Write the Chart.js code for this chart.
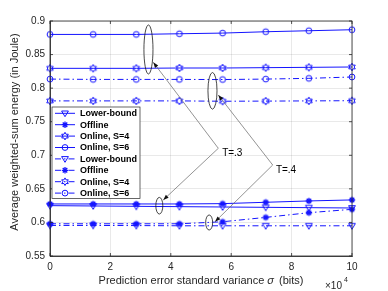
<!DOCTYPE html>
<html><head><meta charset="utf-8">
<script src="https://cdn.jsdelivr.net/npm/chart.js@4/dist/chart.umd.min.js"></script>
<style>html,body{margin:0;padding:0;background:#fff}#wrap{width:388px;height:291px}</style>
</head><body><div id="wrap"><canvas id="c" width="388" height="291"></canvas></div>
<script>
// ---- data ----
const sigma = [0, 1.4286, 2.8571, 4.2857, 5.7143, 7.1429, 8.5714, 10]; // x 10^4 bits
const lowerT3   = [0.625, 0.6245, 0.624, 0.6235, 0.623, 0.6225, 0.622, 0.6215];
const offlineT3 = [0.6275, 0.6275, 0.6275, 0.6275, 0.628, 0.630, 0.632, 0.6335];
const onS4T3    = [0.8295, 0.8295, 0.8295, 0.830, 0.830, 0.8305, 0.831, 0.8315];
const onS6T3    = [0.880, 0.880, 0.880, 0.881, 0.882, 0.884, 0.8855, 0.887];
const lowerT4   = [0.5955, 0.5955, 0.5953, 0.595, 0.595, 0.595, 0.595, 0.595];
const offlineT4 = [0.598, 0.598, 0.598, 0.598, 0.601, 0.6075, 0.6145, 0.6195];
const onS4T4    = [0.781, 0.781, 0.781, 0.781, 0.7805, 0.7807, 0.781, 0.7813];
const onS6T4    = [0.8135, 0.813, 0.813, 0.813, 0.8128, 0.8135, 0.8146, 0.8166];
const seriesNames = ['Lower-bound', 'Offline', 'Online, S=4', 'Online, S=6',
                     'Lower-bound', 'Offline', 'Online, S=4', 'Online, S=6'];
const xTicks = [0, 2, 4, 6, 8, 10];
const yTicks = [0.55, 0.6, 0.65, 0.7, 0.75, 0.8, 0.85, 0.9];
const xTitle = ['Prediction error standard variance ', 'σ', ' (bits)'];
const yTitle = 'Average weighted-sum energy (in Joule)';
const groupLabels = ['T=.3', 'T=.4'];

// ---- styles ----
const FONT = "'Liberation Sans', Arial, Helvetica, sans-serif";
const BLUE = 'rgb(20,20,255)';
const AXC = '#262626';
const DASHDOT = [6, 3, 1.5, 3];

function drawMarker(ctx, type, cx, cy) {
  ctx.save();
  ctx.strokeStyle = BLUE; ctx.fillStyle = BLUE; ctx.lineWidth = 1; ctx.setLineDash([]);
  ctx.beginPath();
  if (type === 'circle') {
    ctx.arc(cx, cy, 2.9, 0, Math.PI * 2); ctx.stroke();
  } else if (type === 'tri') {
    ctx.moveTo(cx - 3.4, cy - 2.3); ctx.lineTo(cx + 3.4, cy - 2.3); ctx.lineTo(cx, cy + 3.4); ctx.closePath(); ctx.stroke();
  } else if (type === 'star') {
    ctx.lineWidth = 1.3;
    for (let k = 0; k < 4; k++) {
      const a = k * Math.PI / 4, r = 3.2;
      ctx.moveTo(cx - r * Math.cos(a), cy - r * Math.sin(a));
      ctx.lineTo(cx + r * Math.cos(a), cy + r * Math.sin(a));
    }
    ctx.stroke();
  } else if (type === 'hex') {
    for (let k = 0; k < 12; k++) {
      const a = -Math.PI / 2 + k * Math.PI / 6, r = (k % 2 === 0) ? 3.8 : 2.1;
      const px = cx + r * Math.cos(a), py = cy + r * Math.sin(a);
      if (k === 0) ctx.moveTo(px, py); else ctx.lineTo(px, py);
    }
    ctx.closePath(); ctx.stroke();
  }
  ctx.restore();
}
function markerCanvas(type) {
  const c = document.createElement('canvas'); c.width = 12; c.height = 12;
  drawMarker(c.getContext('2d'), type, 6, 6);
  return c;
}
const markerTypes = ['tri', 'star', 'hex', 'circle', 'tri', 'star', 'hex', 'circle'];
const allSeries = [lowerT3, offlineT3, onS4T3, onS6T3, lowerT4, offlineT4, onS4T4, onS6T4];

const datasets = allSeries.map((vals, i) => ({
  label: seriesNames[i],
  data: sigma.map((s, j) => ({ x: s, y: vals[j] })),
  borderColor: BLUE,
  borderWidth: 1,
  borderDash: i >= 4 ? DASHDOT : [],
  pointStyle: markerCanvas(markerTypes[i]),
  pointRadius: 3,
  tension: 0,
  fill: false,
  clip: false
}));

const annotations = {
  ellipses: [ // cx, cy, rx, ry (data units)
    [3.26, 0.8576, 0.15, 0.0365],
    [5.38, 0.796, 0.15, 0.0273],
    [3.62, 0.6249, 0.116, 0.0124],
    [5.27, 0.5999, 0.116, 0.0112]
  ],
  vertices: [[5.573, 0.7104], [7.374, 0.6855]],
  tips: [[[3.42, 0.8385], [3.75, 0.6334]], [[5.573, 0.7898], [5.464, 0.601]]],
  labels: [[5.70, 0.703], [7.48, 0.678]]
};

const deco = {
  id: 'deco',
  afterDraw(chart) {
    const { ctx, chartArea: a, scales: { x, y } } = chart;
    ctx.save();
    ctx.strokeStyle = AXC; ctx.lineWidth = 0.8; ctx.setLineDash([]);
    ctx.strokeRect(a.left, a.top, a.right - a.left, a.bottom - a.top);
    ctx.beginPath();
    xTicks.forEach(t => { const px = x.getPixelForValue(t);
      ctx.moveTo(px, a.bottom); ctx.lineTo(px, a.bottom - 3);
      ctx.moveTo(px, a.top); ctx.lineTo(px, a.top + 3); });
    yTicks.forEach(t => { const py = y.getPixelForValue(t);
      ctx.moveTo(a.left, py); ctx.lineTo(a.left + 3, py);
      ctx.moveTo(a.right, py); ctx.lineTo(a.right - 3, py); });
    ctx.stroke();

    // legend
    const L = a.left + 2, T = a.top + 86, W = 88, H = 91.5;
    ctx.fillStyle = '#fff'; ctx.fillRect(L, T, W, H);
    ctx.strokeStyle = AXC; ctx.lineWidth = 0.7; ctx.strokeRect(L, T, W, H);
    ctx.font = 'bold 9px ' + FONT; ctx.textBaseline = 'middle'; ctx.textAlign = 'left';
    seriesNames.forEach((n, i) => {
      const cy = T + 6.3 + i * 11.4;
      ctx.save();
      ctx.strokeStyle = BLUE; ctx.lineWidth = 1; ctx.setLineDash(i >= 4 ? DASHDOT : []);
      ctx.beginPath(); ctx.moveTo(L + 3, cy); ctx.lineTo(L + 23, cy); ctx.stroke();
      ctx.restore();
      drawMarker(ctx, markerTypes[i], L + 13, cy);
      ctx.fillStyle = '#000'; ctx.fillText(n, L + 28, cy + 0.5);
    });

    // annotations
    ctx.strokeStyle = '#1a1a1a'; ctx.lineWidth = 0.8;
    annotations.ellipses.forEach(([cx, cy, rx, ry]) => {
      const px = x.getPixelForValue(cx), py = y.getPixelForValue(cy);
      const rpx = Math.abs(x.getPixelForValue(cx + rx) - px), rpy = Math.abs(y.getPixelForValue(cy + ry) - py);
      ctx.beginPath(); ctx.ellipse(px, py, rpx, rpy, 0, 0, Math.PI * 2); ctx.stroke();
    });
    annotations.vertices.forEach((v, gi) => {
      const vx = x.getPixelForValue(v[0]), vy = y.getPixelForValue(v[1]);
      annotations.tips[gi].forEach(tp => {
        const tx = x.getPixelForValue(tp[0]), ty = y.getPixelForValue(tp[1]);
        ctx.strokeStyle = '#666'; ctx.lineWidth = 0.7;
        ctx.beginPath(); ctx.moveTo(vx, vy); ctx.lineTo(tx, ty); ctx.stroke();
        const ang = Math.atan2(ty - vy, tx - vx), len = 5.5, hw = 2;
        const bx = tx - len * Math.cos(ang), by = ty - len * Math.sin(ang);
        ctx.fillStyle = '#111';
        ctx.beginPath(); ctx.moveTo(tx, ty);
        ctx.lineTo(bx + hw * Math.sin(ang), by - hw * Math.cos(ang));
        ctx.lineTo(bx - hw * Math.sin(ang), by + hw * Math.cos(ang));
        ctx.closePath(); ctx.fill();
      });
      const lp = annotations.labels[gi];
      ctx.fillStyle = '#000'; ctx.font = '10px ' + FONT; ctx.textBaseline = 'middle'; ctx.textAlign = 'left';
      ctx.fillText(groupLabels[gi], x.getPixelForValue(lp[0]), y.getPixelForValue(lp[1]));
    });

    // x title with italic sigma
    const fN = '11px ' + FONT, fI = 'italic 11px ' + FONT;
    ctx.fillStyle = AXC; ctx.textBaseline = 'middle'; ctx.textAlign = 'left';
    ctx.font = fN; const w0 = ctx.measureText(xTitle[0]).width, w2 = ctx.measureText(xTitle[2]).width;
    ctx.font = fI; const w1 = ctx.measureText(xTitle[1]).width;
    let sx = (a.left + a.right) / 2 - (w0 + w1 + w2 + 2) / 2; const ty = 281;
    ctx.font = fN; ctx.fillText(xTitle[0], sx, ty); sx += w0;
    ctx.font = fI; ctx.fillText(xTitle[1], sx, ty); sx += w1 + 2;
    ctx.font = fN; ctx.fillText(xTitle[2], sx, ty);
    ctx.textBaseline = 'alphabetic';
    ctx.font = '10px ' + FONT; ctx.fillText('×10', a.right - 27, 289);
    ctx.font = '7px ' + FONT; ctx.fillText('4', a.right - 8, 282);
    ctx.save(); ctx.translate(15, 132); ctx.rotate(-Math.PI / 2);
    ctx.font = '11px ' + FONT; ctx.textAlign = 'center'; ctx.textBaseline = 'middle';
    ctx.fillText(yTitle, 0, 0); ctx.restore();
    ctx.restore();
  }
};

Chart.defaults.font.family = FONT;
new Chart(document.getElementById('c'), {
  type: 'line',
  data: { datasets },
  options: {
    responsive: false, animation: false, devicePixelRatio: 1,
    layout: { padding: { top: 21, right: 36, left: 0, bottom: 0 } },
    plugins: { legend: { display: false }, tooltip: { enabled: false } },
    scales: {
      x: {
        type: 'linear', min: 0, max: 10,
        afterFit: s => { s.height = 35; },
        afterBuildTicks: s => { s.ticks = xTicks.map(v => ({ value: v })); },
        ticks: { color: AXC, font: { size: 10 }, padding: 5, maxRotation: 0,
                 callback: v => String(v) },
        grid: { color: 'rgba(38,38,38,0.13)', drawTicks: false, lineWidth: 0.8 },
        border: { color: AXC, width: 0.8 }
      },
      y: {
        type: 'linear', min: 0.55, max: 0.9,
        afterFit: s => { s.width = 50; },
        afterBuildTicks: s => { s.ticks = yTicks.map(v => ({ value: v })); },
        ticks: { color: AXC, font: { size: 10 }, padding: 5,
                 callback: v => String(Math.round(v * 100) / 100) },
        grid: { color: 'rgba(38,38,38,0.13)', drawTicks: false, lineWidth: 0.8 },
        border: { color: AXC, width: 0.8 }
      }
    }
  },
  plugins: [deco]
});
</script>
</body></html>
